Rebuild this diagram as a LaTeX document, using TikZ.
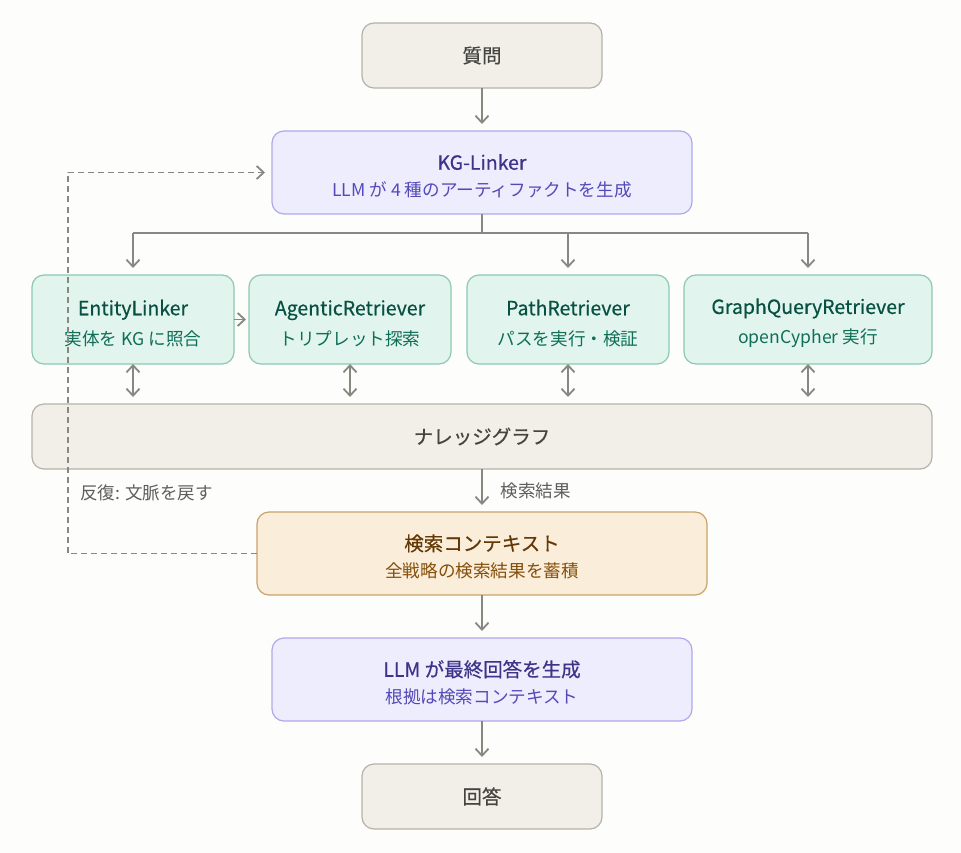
\documentclass[tikz,border=0pt]{standalone}
\usepackage{fontspec}
\setmainfont{Noto Sans CJK JP}
\newfontfamily\medfont{Noto Sans CJK JP}[FakeBold=0.5]
\usetikzlibrary{positioning,arrows.meta,calc}
\definecolor{bgpaper}{HTML}{FDFDFC}
\definecolor{grayfill}{HTML}{F1EFE8}
\definecolor{grayline}{HTML}{B4B2A9}
\definecolor{graytext}{HTML}{444441}
\definecolor{purfill}{HTML}{EEEDFE}
\definecolor{purline}{HTML}{AFA9EC}
\definecolor{purtitle}{HTML}{3C3489}
\definecolor{pursub}{HTML}{534AB7}
\definecolor{tealfill}{HTML}{E1F5EE}
\definecolor{tealline}{HTML}{8CC9B2}
\definecolor{tealtitle}{HTML}{085041}
\definecolor{tealsub}{HTML}{0F6E56}
\definecolor{ambfill}{HTML}{FAEEDA}
\definecolor{ambline}{HTML}{C9A26B}
\definecolor{ambtitle}{HTML}{633806}
\definecolor{ambsub}{HTML}{854F0B}
\definecolor{arrgray}{HTML}{888780}
\definecolor{lblgray}{HTML}{5F5E5A}
\newcommand{\ttl}[1]{{\medfont\fontsize{19.5}{27}\selectfont #1}}
\newcommand{\hdr}[1]{\rule{0pt}{23pt}\ttl{#1}}
\tikzset{
  box/.style     = {draw, rounded corners=12pt, align=center, line width=1.2pt,
                    inner sep=4pt, outer sep=0pt, font=\fontsize{17.6}{27}\selectfont},
  neutral/.style = {box, fill=grayfill, draw=grayline, text=graytext,
                    minimum width=240pt, minimum height=65pt},
  llm/.style     = {box, fill=purfill, draw=purline, text=pursub,
                    minimum width=420pt, minimum height=83pt},
  retr/.style    = {box, fill=tealfill, draw=tealline, text=tealsub,
                    minimum width=202pt, minimum height=89pt,
                    font=\fontsize{17.6}{30}\selectfont},
  ctx/.style     = {box, fill=ambfill, draw=ambline, text=ambsub,
                    minimum width=450pt, minimum height=83pt},
  conn/.style    = {draw=arrgray, line width=1.8pt},
  arr/.style     = {conn, -{Straight Barb[length=7pt,width=13pt]}, shorten >=7pt},
  both/.style    = {conn, {Straight Barb[length=7pt,width=13pt]}-{Straight Barb[length=7pt,width=13pt]},
                    shorten >=7pt},
  loopback/.style= {arr, dash pattern=on 6pt off 4pt},
  lbl/.style     = {text=lblgray, font=\fontsize{17.5}{20}\selectfont, inner sep=0pt}
}
\begin{document}
\begin{tikzpicture}[x=1pt, y=1pt, node distance=43pt and 15pt]

  % Paper and bounding box.
  \fill[bgpaper] (0,0) rectangle (961,-853);
  \useasboundingbox (0,0) rectangle (961,-853);

  % Main chain, top part.
  \node[neutral] (Q) at (482,-55.5) {\ttl{質問}};
  \node[llm, below=of Q] (KGL)
    {\hdr{\color{purtitle}KG-Linker}\\LLM が 4 種のアーティファクトを生成};

  % Four retrieval strategies.
  \node[retr, anchor=north west] (EL) at (32,-275)
    {\hdr{\color{tealtitle}EntityLinker}\\実体を KG に照合};
  \node[retr, right=of EL] (AR)
    {\hdr{\color{tealtitle}AgenticRetriever}\\トリプレット探索};
  \node[retr, right=16pt of AR] (PR)
    {\hdr{\color{tealtitle}PathRetriever}\\パスを実行・検証};
  \node[retr, right=of PR, minimum width=248pt] (GQ)
    {\hdr{\color{tealtitle}GraphQueryRetriever}\\openCypher 実行};

  % Knowledge graph spanning the whole row.
  \node[neutral, minimum width=900pt, minimum height=65pt] (KG) at (482,-436.5)
    {\ttl{ナレッジグラフ}};

  % Main chain, bottom part.
  \node[ctx, below=of KG] (CTX)
    {\hdr{\color{ambtitle}検索コンテキスト}\\全戦略の検索結果を蓄積};
  \node[llm, below=of CTX] (GEN)
    {\hdr{\color{purtitle}LLM が最終回答を生成}\\根拠は検索コンテキスト};
  \node[neutral, below=of GEN] (ANS) {\ttl{回答}};

  % Question into the linker, then fan out over a bus.
  \draw[arr] (Q) -- (KGL);
  \coordinate (bus) at ($(KGL.south)+(0,-19)$);
  \draw[conn] (KGL.south) -- (bus);
  \draw[conn] (bus -| EL.north) -- (bus -| GQ.north);
  \draw[arr] (bus -| EL.north) -- (EL.north);
  \draw[arr] (bus -| PR.north) -- (PR.north);
  \draw[arr] (bus -| GQ.north) -- (GQ.north);
  \draw[arr, shorten >=3pt] (EL.east) -- (AR.west);

  % Each strategy reads and writes the graph.
  \draw[both] (EL.south) -- (EL.south |- KG.north);
  \draw[both] (AR.south) -- (AR.south |- KG.north);
  \draw[both] (PR.south) -- (PR.south |- KG.north);
  \draw[both] (GQ.south) -- (GQ.south |- KG.north);

  % Results down the chain.
  \draw[arr] (KG) -- (CTX)
    node[midway, right=18pt, lbl] {検索結果};
  \draw[arr] (CTX) -- (GEN);
  \draw[arr] (GEN) -- (ANS);

  % Iteration: context goes back to the linker.
  \coordinate (loop) at (68,-553.5);
  \draw[loopback] (CTX.west) -- (loop) |- (KGL.west);
  \node[lbl, anchor=west] (iter) at (80,-493) {反復: 文脈を戻す};

\end{tikzpicture}
\end{document}
